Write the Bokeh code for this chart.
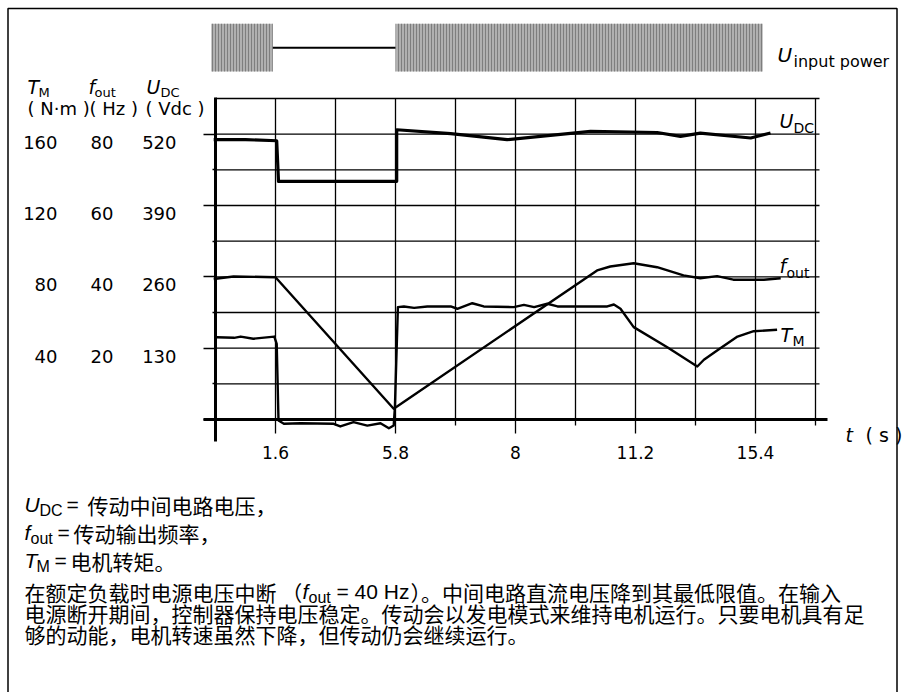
from bokeh.plotting import figure
from bokeh.models import Range1d, LinearAxis, FixedTicker, Label, PolyAnnotation
from bokeh.core.properties import value
from bokeh.embed import file_html
from bokeh.resources import INLINE

# ---------------- data ----------------
# time axis in grid steps; labelled ticks
x_grid = [1, 2, 3, 4, 5, 6, 7, 8, 9, 10]
x_major = [1, 3, 5, 7, 9]
x_labels = ["1.6", "5.8", "8", "11.2", "15.4"]
x_minor = [2, 4, 6, 8, 10]

y_grid = [20, 40, 60, 80, 100, 120, 140, 160, 180]   # T_M units
y_major = [0, 40, 80, 120, 160]
y_minor = [20, 60, 100, 140]
tm_ticks = [40, 80, 120, 160]          # N·m
fo_ticks = [20, 40, 60, 80]            # Hz
ud_ticks = [130, 260, 390, 520]        # Vdc

# U_DC (Vdc)
udc_t = [-0.03, 0.5, 1.02, 1.05, 3.02, 3.02, 3.92, 4.86, 6.25, 7.36, 7.75, 8.08, 8.92, 9.25]
udc_v = [510, 510, 508, 434, 434, 528, 521, 510, 525, 523, 516, 522, 513, 522]

# f_out (Hz)
fo_t = [-0.03, 0.3, 1.0, 2.97, 6.36, 6.58, 6.97, 7.36, 7.8, 8.08, 8.36, 8.63, 9.14, 9.42]
fo_v = [39.4, 40.1, 39.9, 3.0, 41.8, 42.9, 43.8, 42.7, 40.4, 39.6, 40.2, 39.2, 39.2, 39.6]

# T_M (N·m)
tm_t = [0.02, 0.31, 0.42, 0.63, 0.98, 1.02, 1.05, 1.14, 1.42, 1.97, 2.08, 2.30, 2.53, 2.75,
        2.89, 2.97, 2.99, 3.04, 3.14, 3.31, 3.53, 3.92, 4.03, 4.28, 4.47, 4.97, 5.14, 5.31,
        5.53, 5.70, 6.53, 6.64, 6.75, 6.97, 7.53, 8.03, 8.14, 8.36, 8.70, 8.97, 9.36]
tm_v = [46.1, 45.8, 46.5, 45.3, 46.5, 42.4, -0.6, -2.4, -2.1, -2.4, -3.9, -1.5, -3.4, -2.1,
        -4.9, -3.4, 6.9, 63.0, 63.4, 62.6, 63.4, 63.4, 62.1, 65.2, 63.4, 63.0, 64.3, 63.0,
        64.9, 63.4, 63.4, 64.5, 62.1, 51.8, 40.5, 29.7, 33.5, 38.7, 46.5, 49.5, 50.3]

# input power on / off intervals
pwr_on_start = [-0.07, 3.0]
pwr_on_end = [0.955, 9.12]
pwr_off_start = [0.955]
pwr_off_end = [3.0]

# ---------------- layout helpers (canvas px -> data) ----------------
W, H = 904, 692
K = 321 / 180.0            # px per T_M unit
def xd(px):
    return (px - 215) / 60.0
def yd(py):
    return (419 - py) / K

X0, X1 = xd(0), xd(W)
Y0, Y1 = yd(H), yd(0)
UDC_F = 3.25
FO_F = 0.5
LS = 8 / K                 # label shift
PC, PH = yd(47.2), 23.85 / K

p = figure(width=W, height=H, x_range=Range1d(X0, X1), y_range=Range1d(Y0, Y1),
           output_backend="svg", toolbar_location=None,
           x_axis_location=None, y_axis_location=None, min_border=0)
p.min_border_left = p.min_border_right = p.min_border_top = p.min_border_bottom = 0
p.outline_line_color = None
p.background_fill_color = "white"
p.border_fill_color = "white"
p.xgrid.visible = False
p.ygrid.visible = False

p.extra_y_ranges = {
    "udc": Range1d(Y0 * UDC_F, Y1 * UDC_F),
    "fout": Range1d(Y0 * FO_F, Y1 * FO_F),
    "pwr": Range1d((Y0 - PC) / PH, (Y1 - PC) / PH),
    "tm_lab": Range1d(Y0 + LS, Y1 + LS),
    "fo_lab": Range1d((Y0 + LS) * FO_F, (Y1 + LS) * FO_F),
    "ud_lab": Range1d((Y0 + LS) * UDC_F, (Y1 + LS) * UDC_F),
}

# page border (open at the bottom: closing edge lies below the canvas)
p.add_layout(PolyAnnotation(xs=[xd(7.5), xd(7.5), xd(896.5), xd(896.5)],
                            ys=[yd(H + 40), yd(8), yd(8), yd(H + 40)],
                            fill_color=None, fill_alpha=0,
                            line_color="black", line_alpha=1.0, line_width=1.5))

# grid
top = y_grid[-1]
p.segment(x0=x_grid, y0=[0] * len(x_grid), x1=x_grid, y1=[top] * len(x_grid),
          line_color="black", line_width=1.3)
p.segment(x0=[0] * len(y_grid), y0=y_grid, x1=[xd(819)] * len(y_grid), y1=y_grid,
          line_color="black", line_width=1.3)

# axes
ax_l = LinearAxis(fixed_location=0, bounds=(yd(441), yd(97)),
                  ticker=FixedTicker(ticks=y_major, minor_ticks=y_minor),
                  major_tick_out=12, major_tick_in=0, minor_tick_out=3, minor_tick_in=0,
                  axis_line_width=3, major_tick_line_width=1.3, minor_tick_line_width=1.3,
                  major_label_overrides={v: "" for v in y_major})
p.add_layout(ax_l, "left")

ax_b = LinearAxis(fixed_location=0, bounds=(xd(203), xd(827)),
                  ticker=FixedTicker(ticks=x_major, minor_ticks=x_minor),
                  major_tick_out=14, major_tick_in=0, minor_tick_out=6, minor_tick_in=0,
                  axis_line_width=3, major_tick_line_width=1.3, minor_tick_line_width=1.3,
                  major_label_overrides=dict(zip(x_major, x_labels)),
                  major_label_standoff=12,
                  major_label_text_font="DejaVu Sans", major_label_text_font_size="17px",
                  major_label_text_color="black")
p.add_layout(ax_b, "below")

for name, ticks, xpos in (("tm_lab", tm_ticks, 57), ("fo_lab", fo_ticks, 113), ("ud_lab", ud_ticks, 176)):
    a = LinearAxis(y_range_name=name, fixed_location=xd(xpos),
                   ticker=FixedTicker(ticks=ticks, minor_ticks=[]),
                   axis_line_color=None, major_tick_line_color=None, minor_tick_line_color=None,
                   major_tick_out=0, major_tick_in=0, minor_tick_out=0, minor_tick_in=0,
                   major_label_standoff=0,
                   major_label_text_font="DejaVu Sans", major_label_text_font_size="18px",
                   major_label_text_color="black")
    p.add_layout(a, "left")

# input power
p.quad(left=pwr_on_start, right=pwr_on_end, bottom=[-1, -1], top=[1, 1], y_range_name="pwr",
       fill_color="#b0b0b0", line_color=None,
       hatch_pattern=value("vertical_line"), hatch_color="#6a6a6a", hatch_scale=3,
       hatch_weight=1, hatch_alpha=0.7)
p.segment(x0=pwr_off_start, y0=[0], x1=pwr_off_end, y1=[0], y_range_name="pwr",
          line_color="black", line_width=2)

# curves
p.line(udc_t, udc_v, y_range_name="udc", line_color="black", line_width=3.2, line_join="round")
p.line(fo_t, fo_v, y_range_name="fout", line_color="black", line_width=2.4, line_join="round")
p.line(tm_t, tm_v, line_color="black", line_width=2.4, line_join="round")

def put(txt, px, py, size, font="DejaVu Sans", style="normal"):
    p.add_layout(Label(x=xd(px), y=yd(py), text=txt, text_font=font,
                       text_font_size=f"{size}px", text_font_style=style,
                       text_baseline="middle", text_align="left", text_color="black"))

# column headers
put("T", 27, 86, 19, style="italic"); put("M", 38, 92, 13)
put("f", 88, 86, 19, style="italic"); put("out", 94, 92, 13)
put("U", 146, 86, 19, style="italic"); put("DC", 160, 92, 13)
put("( N·m )", 27, 108, 18); put("( Hz )", 89, 108, 18); put("( Vdc )", 145, 108, 18)

# curve labels
put("U", 779, 120, 19, style="italic"); put("DC", 793, 127, 14)
put("f", 779, 265, 19, style="italic"); put("out", 786, 272, 14)
put("T", 780, 334, 19, style="italic"); put("M", 792, 340, 14)
put("U", 777, 54, 20, style="italic"); put("input power", 793, 61, 16)
put("t", 845, 434, 19, style="italic"); put("( s )", 865, 434, 19)

# caption
LAT = "Liberation Sans"
CJK = "Noto Sans CJK SC"
put("U", 24, 504, 21, LAT, "italic"); put("DC", 39, 510, 16, LAT); put("=", 66, 504, 21, LAT)
put("传动中间电路电压，", 87, 504, 21, CJK)
put("f", 24, 532, 21, LAT, "italic"); put("out", 30, 538, 16, LAT); put("=", 57, 532, 21, LAT)
put("传动输出频率，", 73, 532, 21, CJK)
put("T", 24, 560, 21, LAT, "italic"); put("M", 36, 566, 16, LAT); put("=", 54, 560, 21, LAT)
put("电机转矩。", 70, 560, 21, CJK)
put("在额定负载时电源电压中断 （", 24, 591, 21, CJK)
put("f", 302, 591, 21, LAT, "italic"); put("out", 308, 597, 16, LAT)
put("= 40 Hz", 336, 591, 21, LAT)
put("）。中间电路直流电压降到其最低限值。在输入", 410, 591, 21, CJK)
put("电源断开期间，控制器保持电压稳定。传动会以发电模式来维持电机运行。只要电机具有足", 24, 612, 21, CJK)
put("够的动能，电机转速虽然下降，但传动仍会继续运行。", 24, 633, 21, CJK)

open("out.html", "w").write(file_html(p, INLINE))
